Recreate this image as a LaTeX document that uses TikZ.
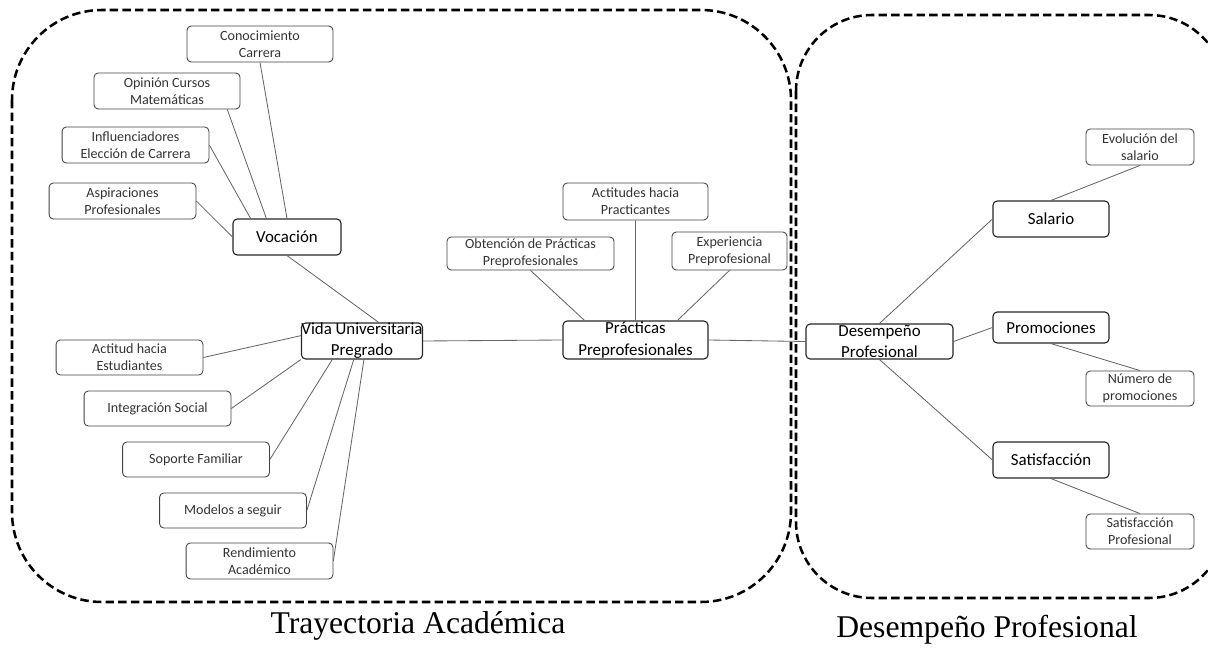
\documentclass[tikz,border=0pt]{standalone}
\usepackage{fontspec}
\setmainfont{Carlito}
\newfontfamily\titlefont{Liberation Serif}
\usepackage{tikz}

\begin{document}
\begin{tikzpicture}[x=0.025cm, y=-0.025cm,
	box/.style={draw=black!75, rounded corners=3pt, inner sep=0pt, align=center, line width=0.6pt},
	sub/.style={box, text=black!80, font=\fontsize{10}{12}\selectfont, minimum width=3.67cm, minimum height=0.9cm},
	main/.style={box, draw=black!85, line width=0.8pt, font=\fontsize{12}{15}\selectfont, minimum height=0.9cm},
	link/.style={draw=black!60, line width=0.6pt},
	zone/.style={draw=black, line width=1.8pt, dash pattern=on 6pt off 3pt},
	zonetitle/.style={anchor=base, font=\titlefont\fontsize{22.5}{27}\selectfont}]
\useasboundingbox (0,0) rectangle (1208,649);
	% zonas
	\draw[zone, rounded corners=2.25cm] (12,10) rectangle (791,602);
	\draw[zone, rounded corners=1.9cm] (796,15) rectangle (1225,598);
	\node (tA) at (418,633) [zonetitle] {Trayectoria Académica};
	\node (tD) at (987,637) [zonetitle] {Desempeño Profesional};
	% trayectoria academica
	\node (voc) at (287,237) [main, minimum width=2.7cm] {Vocación};
		\node (con) at (260,44) [sub, minimum width=3.65cm] {Conocimiento\\Carrera};
		\node (opi) at (167,91) [sub, minimum width=3.65cm] {Opinión Cursos\\Matemáticas};
		\node (inf) at (135.5,145) [sub] {Influenciadores\\Elección de Carrera};
		\node (asp) at (122.5,201) [sub] {Aspiraciones\\Profesionales};
	\node (vida) at (362,341) [main, minimum width=2.875cm] {Vida Universitaria\\Pregrado};
		\node (act) at (129.5,357.5) [sub, minimum height=0.875cm] {Actitud hacia\\Estudiantes};
		\node (int) at (157.5,408.5) [sub, minimum height=0.875cm] {Integración Social};
		\node (sop) at (196,459.5) [sub, minimum height=0.875cm] {Soporte Familiar};
		\node (mod) at (233,510.5) [sub, minimum height=0.875cm] {Modelos a seguir};
		\node (ren) at (259.5,561) [sub] {Rendimiento\\Académico};
	\node (pra) at (635.5,340) [main, minimum width=3.625cm, minimum height=0.95cm] {Prácticas\\Preprofesionales};
		\node (obt) at (530.5,253.5) [sub, minimum width=4.175cm, minimum height=0.825cm] {Obtención de Prácticas\\Preprofesionales};
		\node (actp) at (635.5,201.5) [sub, minimum width=3.625cm, minimum height=0.925cm] {Actitudes hacia\\Practicantes};
		\node (exp) at (729.5,251) [sub, minimum width=2.875cm, minimum height=0.95cm] {Experiencia\\Preprofesional};
	% desempeno profesional
	\node (des) at (879.5,341.5) [main, minimum width=3.675cm, minimum height=0.875cm] {Desempeño\\Profesional};
		\node (sal) at (1051,219) [main, minimum width=2.9cm] {Salario};
			\node (evo) at (1140,147) [sub, minimum width=2.7cm] {Evolución del\\salario};
		\node (pro) at (1051,327.5) [main, minimum width=2.9cm, minimum height=0.775cm] {Promociones};
			\node (num) at (1140,388.5) [sub, minimum width=2.7cm, minimum height=0.875cm] {Número de\\promociones};
		\node (sat) at (1051,460) [main, minimum width=2.9cm] {Satisfacción};
			\node (satp) at (1140,531.5) [sub, minimum width=2.7cm, minimum height=0.875cm] {Satisfacción\\Profesional};
	\draw[link] (con.south) -- (voc.north)
		  (opi.-17) -- (voc.138)
		  (inf.east) -- (voc.153)
		  (asp.east) -- (voc.west)
		  (voc.south) -- (vida.48)
		  (act.east) -- (vida.175)
		  (int.east) -- (vida.south west)
		  (sop.east) -- (vida.212)
		  (mod.east) -- (vida.246)
		  (ren.east) -- (vida.276)
		  (vida.east) -- (pra.west)
		  (obt.south) -- (pra.159)
		  (actp.south) -- (pra.north)
		  (exp.south) -- (pra.25)
		  (pra.east) -- (des.west)
		  (des.north) -- (sal.west)
		  (des.east) -- (pro.west)
		  (des.south) -- (sat.west)
		  (sal.north) -- (evo.south)
		  (pro.south) -- (num.north)
		  (sat.south) -- (satp.north);
\end{tikzpicture}
\end{document}
